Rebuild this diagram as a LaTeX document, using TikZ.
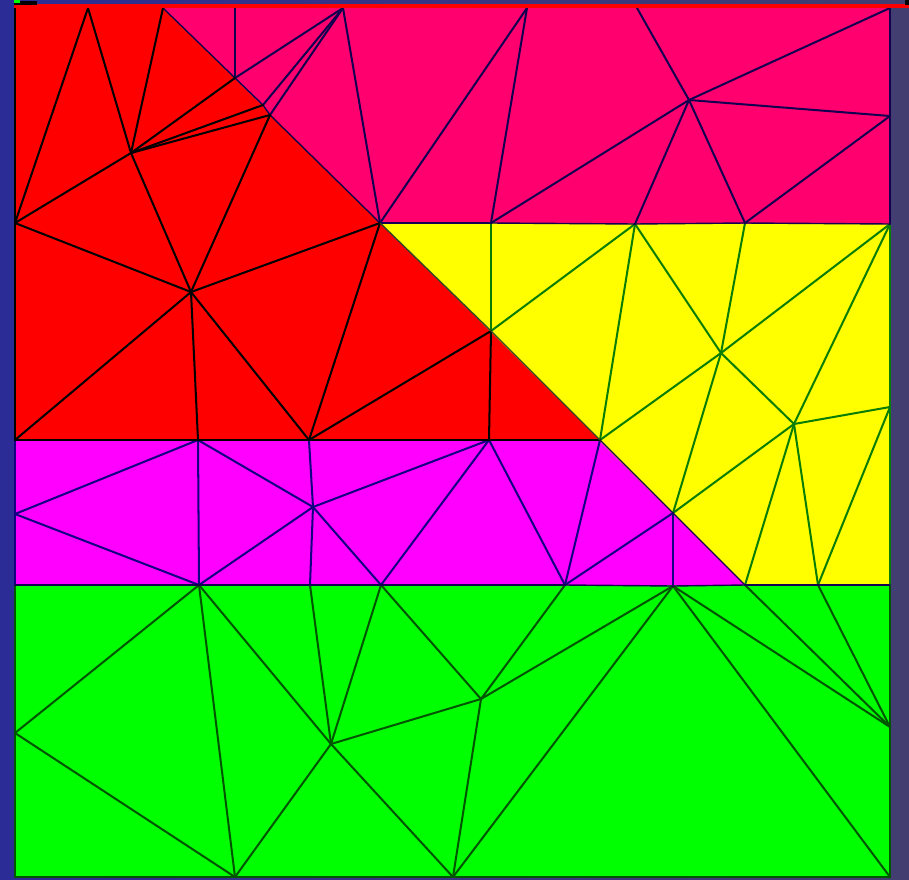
\documentclass[tikz,border=0pt]{standalone}
\usepackage{xcolor}
\definecolor{backleft}{RGB}{44,44,150}
\definecolor{backright}{RGB}{66,62,112}
\definecolor{meshred}{RGB}{255,0,0}
\definecolor{meshpink}{RGB}{255,0,110}
\definecolor{meshyellow}{RGB}{255,255,0}
\definecolor{meshmagenta}{RGB}{255,0,255}
\definecolor{meshgreen}{RGB}{0,255,0}
\definecolor{edgeyellow}{RGB}{10,125,5}
\definecolor{edgegreen}{RGB}{0,85,0}
\definecolor{edgepink}{RGB}{20,0,80}
\definecolor{edgemagenta}{RGB}{20,0,130}
\definecolor{edgeborder}{RGB}{50,70,35}
\tikzset{
  meshedge/.style={line width=1.15pt, line cap=round, line join=round},
  meshborder/.style={line width=0.8pt, line cap=round},
}
\begin{document}
\begin{tikzpicture}[x=0.02cm, y=-0.02cm]
\useasboundingbox (0,0) rectangle (909,879);

% Background
\shade[left color=backleft, right color=backright] (0,0) rectangle (909,879);

% Mesh points
\foreach \n/\x/\y in {
    tl/15/8, ta/88/8, tb/163/8, tc/235/8, td/343/8, te/527/8, tf/637/8, tr/890/8,
    a/235/78, b/263/105, c/270/115, d/131/153, j/689/100, k/890/116,
    la/15/223, e/380/223, g/491/223, h/635/224, i/745/223, ra/890/224,
    f/191/292, m/491/331, n/721/353, o/794/424, rb/890/407,
    lb/15/440, q/198/440, s/309/440, u/489/440, p/600/440,
    lc/15/514, v/313/507, w/673/513,
    ld/15/585, x/199/585, y/310/585, z/381/585, aa/565/585, ab/673/586,
    ac/745/585, ad/818/585, rc/890/585,
    le/15/733, ae/331/744, af/481/699, rd/890/727,
    bl/15/877, ag/235/877, ah/453/877, br/890/877} {
    \coordinate (\n) at (\x,\y);
}

% Regions
\fill[meshgreen] (ld) -- (rc) -- (br) -- (bl) -- cycle;
\fill[meshmagenta] (lb) -- (p) -- (ac) -- (ld) -- cycle;
\fill[meshyellow] (e) -- (ra) -- (rc) -- (ac) -- cycle;
\fill[meshpink] (tb) -- (tr) -- (ra) -- (e) -- cycle;
\fill[meshred] (tl) -- (tb) -- (p) -- (lb) -- cycle;

% Green edges
\foreach \a/\b in {ld/le, le/bl, bl/ag, ag/ah, ah/br, br/rd, rd/rc, x/le, x/ae, x/ag, y/ae, z/ae,
    z/af, aa/af, ab/af, ab/ah, ab/br, ab/rd, ac/rd, ad/rd, ae/af, ae/ag, ae/ah, af/ah, le/ag} {
    \draw[meshedge, edgegreen] (\a) -- (\b);
}

% Yellow edges
\foreach \a/\b in {g/m, m/h, h/n, i/n, h/p, n/ra, n/p, n/o, n/w, ra/o, o/rb, o/w, o/ac, o/ad,
    rb/ad, ra/rb, rb/rc} {
    \draw[meshedge, edgeyellow] (\a) -- (\b);
}

% Magenta edges
\foreach \a/\b in {lb/lc, lc/ld, q/x, q/v, s/v, v/u, lc/q, lc/x, x/v, v/y, v/z, u/z, u/aa, p/aa,
    aa/w, w/ab} {
    \draw[meshedge, edgemagenta] (\a) -- (\b);
}
\foreach \a/\b in {ld/x, x/y, y/z, z/aa, aa/ab, ab/ac, ac/ad, ad/rc, p/w, w/ac} {
    \draw[meshborder, edgepink] (\a) -- (\b);
}

% Pink edges
\foreach \a/\b in {a/tc, a/td, b/td, c/td, td/e, e/te, g/te, g/j, tf/j,
    j/h, j/i, j/tr, j/k, k/i, tr/k, k/ra} {
    \draw[meshedge, edgepink] (\a) -- (\b);
}
\foreach \a/\b in {tb/a, a/b, b/c, c/e, e/g, g/h, h/i, i/ra} {
    \draw[meshborder, edgepink] (\a) -- (\b);
}

% Red edges
\foreach \a/\b in {tl/la, la/lb, la/ta, ta/d, tb/d, d/a, d/b, d/c, d/la, d/f, la/f, c/f, f/e, f/lb,
    f/q, f/s, e/s, s/m, m/u, lb/q, q/s, s/u, u/p} {
    \draw[meshedge, black] (\a) -- (\b);
}
\foreach \a/\b in {e/m, m/p} {
    \draw[meshborder, edgeborder] (\a) -- (\b);
}

% Top strip
\fill[meshred] (14,4) rectangle (909,8);
\fill[black] (14,1) rectangle (37,5);
\fill[meshgreen] (14,0) rectangle (20,3);
\fill[black] (905,0) rectangle (909,5);

\end{tikzpicture}
\end{document}
